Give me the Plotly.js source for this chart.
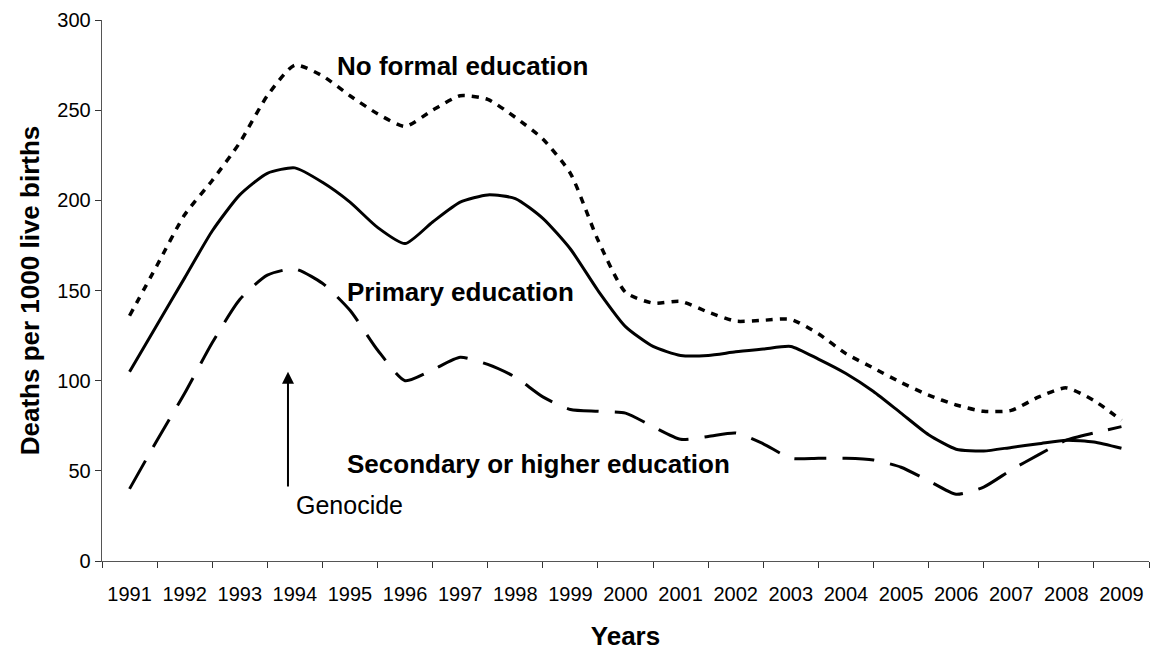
<!DOCTYPE html>
<html>
<head>
<meta charset="utf-8">
<script src="https://cdn.plot.ly/plotly-3.0.1.min.js"></script>
<style>html,body{margin:0;padding:0;background:#fff;}#chart{width:1161px;height:655px;}</style>
</head>
<body>
<div id="chart"></div>
<script>
const yearLabels = ['1991','1992','1993','1994','1995','1996','1997','1998','1999','2000','2001','2002','2003','2004','2005','2006','2007','2008','2009'];
const yearTicks = [1991,1992,1993,1994,1995,1996,1997,1998,1999,2000,2001,2002,2003,2004,2005,2006,2007,2008,2009];
const yearBounds = [1990.5,1991.5,1992.5,1993.5,1994.5,1995.5,1996.5,1997.5,1998.5,1999.5,2000.5,2001.5,2002.5,2003.5,2004.5,2005.5,2006.5,2007.5,2008.5,2009.5];
const periods = [1991,1991.5,1992,1992.5,1993,1993.5,1994,1994.5,1995,1995.5,1996,1996.5,1997,1997.5,1998,1998.5,1999,1999.5,2000,2000.5,2001,2001.5,2002,2002.5,2003,2003.5,2004,2004.5,2005,2005.5,2006,2006.5,2007,2007.5,2008,2008.5,2009];
const noFormal = [136,164,192,211,232,258,275,269,258,248,241,250,258,256,246,234,215,178,149,143,144,138,133,133.5,134,126,115,107,99,92,86.5,83,83.5,91,96,89,78];
const primary = [105,131,157,183,203,215,218,210,199,185,176,188,199,203,201,190,173,150,130,119,114,114,116,117.5,119,112,104,94,82,70,62,61,63,65,67,66,62.5];
const secondary = [40,67,93,121,145,158.5,162,154,139,117,100,106,113,109,102,91,84,83,82,74.5,67.5,69,71,65,57,57,57,56,52,44.5,37,41,50.5,59,67,71,74.5];

const FONT = 'Liberation Sans, Arial, sans-serif';
const traces = [
  {x: periods, y: noFormal, type: 'scatter', mode: 'lines', name: 'No formal education',
   line: {color: '#000', width: 3.5, dash: '7px,7px', shape: 'spline', smoothing: 0.6}, hoverinfo: 'skip'},
  {x: periods, y: primary, type: 'scatter', mode: 'lines', name: 'Primary education',
   line: {color: '#000', width: 3, shape: 'spline', smoothing: 0.6}, hoverinfo: 'skip'},
  {x: periods, y: secondary, type: 'scatter', mode: 'lines', name: 'Secondary or higher education',
   line: {color: '#000', width: 3, dash: '32px,16px', shape: 'spline', smoothing: 0.6}, hoverinfo: 'skip'},
  {x: [yearBounds[0]], y: [0], xaxis: 'x2', yaxis: 'y', type: 'scatter', mode: 'markers',
   marker: {opacity: 0}, hoverinfo: 'skip', showlegend: false}
];

const layout = {
  width: 1161, height: 655,
  margin: {l: 102, r: 12, t: 20, b: 94},
  paper_bgcolor: '#fff', plot_bgcolor: '#fff',
  showlegend: false,
  font: {family: FONT, color: '#000', size: 20},
  xaxis: {
    type: 'linear', range: [1990.5, 2009.5], tickmode: 'array', tickvals: yearTicks, ticktext: yearLabels,
    ticks: 'outside', ticklen: 15, tickcolor: 'rgba(0,0,0,0)', showgrid: false, zeroline: false,
    showline: true, linecolor: '#555', linewidth: 1.3,
    tickfont: {family: FONT, size: 20, color: '#000'},
    title: {text: '<b>Years</b>', font: {family: FONT, size: 26, color: '#000'}, standoff: 22}
  },
  xaxis2: {
    type: 'linear', overlaying: 'x', anchor: 'y', range: [1990.5, 2009.5], tickmode: 'array', tickvals: yearBounds,
    ticks: 'outside', ticklen: 6, tickwidth: 1, tickcolor: '#333', showticklabels: false,
    showgrid: false, zeroline: false, showline: false
  },
  yaxis: {
    range: [0, 300], tickmode: 'array', tickvals: [0,50,100,150,200,250,300],
    ticks: 'outside', ticklen: 6, tickwidth: 1, tickcolor: '#333',
    showgrid: false, zeroline: false, showline: true, linecolor: '#555', linewidth: 1.3,
    tickfont: {family: FONT, size: 20, color: '#000'},
    title: {text: '<b>Deaths per 1000 live births</b>', font: {family: FONT, size: 26, color: '#000'}, standoff: 10}
  },
  annotations: [
    {xref: 'paper', yref: 'paper', x: (335-102)/1047, y: (561-66)/541, xanchor: 'left', yanchor: 'middle',
     text: '<b>No formal education</b>', showarrow: false, font: {family: FONT, size: 26, color: '#000'}},
    {xref: 'paper', yref: 'paper', x: (345-102)/1047, y: (561-292)/541, xanchor: 'left', yanchor: 'middle',
     text: '<b>Primary education</b>', showarrow: false, font: {family: FONT, size: 26, color: '#000'}},
    {xref: 'paper', yref: 'paper', x: (345-102)/1047, y: (561-464)/541, xanchor: 'left', yanchor: 'middle',
     text: '<b>Secondary or higher education</b>', showarrow: false, font: {family: FONT, size: 26, color: '#000'}},
    {xref: 'paper', yref: 'paper', x: (294-102)/1047, y: (561-505)/541, xanchor: 'left', yanchor: 'middle',
     text: 'Genocide', showarrow: false, font: {family: FONT, size: 25, color: '#000'}},
    {xref: 'x', yref: 'y', x: 1993.875, y: 105, axref: 'x', ayref: 'y', ax: 1993.875, ay: 40.5,
     text: '', showarrow: true, arrowhead: 2, arrowsize: 1.2, arrowwidth: 2, arrowcolor: '#000'}
  ]
};

Plotly.newPlot('chart', traces, layout, {displayModeBar: false, staticPlot: true});
</script>
</body>
</html>
